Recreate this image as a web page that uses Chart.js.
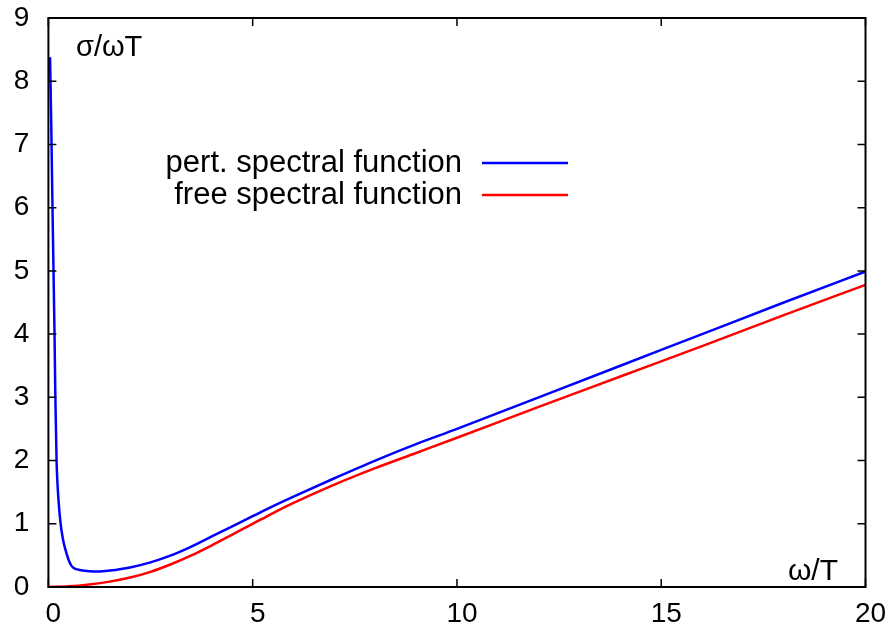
<!DOCTYPE html>
<html>
<head>
<meta charset="utf-8">
<script src="https://cdn.jsdelivr.net/npm/chart.js@4.4.1/dist/chart.umd.min.js"></script>
<style>
  html, body { margin: 0; padding: 0; background: #fff; }
  #wrap { width: 890px; height: 636px; }
</style>
</head>
<body>
<div id="wrap"><canvas id="grafica" width="890" height="636"></canvas></div>
<script>
// datos
const seriesLabels = ["pert. spectral function", "free spectral function"];
const seriesColors = ["#0000ff", "#ff0000"];

const pertOmega = [0.04, 0.07, 0.1, 0.13, 0.15, 0.17, 0.2, 0.25, 0.3, 0.35, 0.4, 0.5, 0.57, 0.65, 0.8, 1.0, 1.25, 1.5, 2, 2.5, 3, 3.5, 4, 4.5, 5, 5.5, 6, 7, 8, 9, 10, 12, 14, 16, 18, 20];
const pertSigma = [8.38, 7.3, 6.0, 4.8, 4.0, 3.0, 2.0, 1.35, 1.0, 0.78, 0.63, 0.42, 0.33, 0.29, 0.265, 0.25, 0.245, 0.26, 0.31, 0.39, 0.5, 0.64, 0.8, 0.96, 1.12, 1.28, 1.43, 1.72, 2.0, 2.26, 2.5, 3.0, 3.5, 4.0, 4.5, 4.99];

const freeOmega = [0, 0.5, 1, 1.5, 2, 2.5, 3, 3.5, 4, 4.5, 5, 5.5, 6, 7, 8, 9, 10, 12, 14, 16, 18, 20];
const freeSigma = [0, 0.01, 0.04, 0.085, 0.15, 0.24, 0.36, 0.5, 0.66, 0.83, 1.0, 1.17, 1.33, 1.62, 1.88, 2.12, 2.36, 2.85, 3.33, 3.81, 4.3, 4.78];

const xTicks = [0, 5, 10, 15, 20];
const yTicks = [0, 1, 2, 3, 4, 5, 6, 7, 8, 9];

const FONT = "'Liberation Sans', Arial, sans-serif";

function puntos(xs, ys) {
    return xs.map((x, i) => ({ x: x, y: ys[i] }));
}

// marco estilo gnuplot, ticks hacia dentro, etiquetas y leyenda
const marco = {
    id: "marco",
    afterDatasetsDraw(chart) {
        const { ctx, chartArea: a, scales } = chart;
        const xs = scales.x, ys = scales.y;
        ctx.save();
        ctx.strokeStyle = "#000";
        ctx.lineWidth = 2;
        ctx.strokeRect(a.left, a.top, a.right - a.left, a.bottom - a.top);

        const t = 8;
        ctx.lineWidth = 1.5;
        ctx.beginPath();
        xTicks.forEach(v => {
            const px = xs.getPixelForValue(v);
            ctx.moveTo(px, a.bottom); ctx.lineTo(px, a.bottom - t);
            ctx.moveTo(px, a.top); ctx.lineTo(px, a.top + t);
        });
        yTicks.forEach(v => {
            const py = ys.getPixelForValue(v);
            ctx.moveTo(a.left, py); ctx.lineTo(a.left + t, py);
            ctx.moveTo(a.right, py); ctx.lineTo(a.right - t, py);
        });
        ctx.stroke();

        ctx.fillStyle = "#000";
        ctx.textBaseline = "middle";
        ctx.font = "29px " + FONT;
        ctx.textAlign = "left";
        ctx.fillText("σ/ωT", 76, 48);
        ctx.font = "30px " + FONT;
        ctx.textAlign = "right";
        ctx.fillText("ω/T", 838, 572);

        // leyenda
        const filas = [163, 195];
        ctx.font = "31px " + FONT;
        chart.data.datasets.forEach((ds, i) => {
            ctx.fillStyle = "#000";
            ctx.textAlign = "right";
            ctx.fillText(ds.label, 462, filas[i]);
            ctx.strokeStyle = ds.borderColor;
            ctx.lineWidth = 2.5;
            ctx.beginPath();
            ctx.moveTo(482, filas[i]);
            ctx.lineTo(568, filas[i]);
            ctx.stroke();
        });
        ctx.restore();
    }
};

const ctx = document.getElementById("grafica").getContext("2d");

new Chart(ctx, {
    type: "line",
    data: {
        datasets: [
            {
                label: seriesLabels[0],
                data: puntos(pertOmega, pertSigma),
                borderColor: seriesColors[0],
                borderWidth: 2.5,
                pointRadius: 0,
                cubicInterpolationMode: "monotone",
                fill: false
            },
            {
                label: seriesLabels[1],
                data: puntos(freeOmega, freeSigma),
                borderColor: seriesColors[1],
                borderWidth: 2.5,
                pointRadius: 0,
                cubicInterpolationMode: "monotone",
                fill: false
            }
        ]
    },
    options: {
        responsive: false,
        animation: false,
        devicePixelRatio: 1,
        layout: { padding: { left: 0, right: 24.5, top: 18, bottom: 0 } },
        plugins: {
            legend: { display: false },
            tooltip: { enabled: false }
        },
        scales: {
            x: {
                type: "linear",
                min: 0,
                max: 20,
                afterBuildTicks: s => { s.ticks = xTicks.map(v => ({ value: v })); },
                afterFit: s => { s.height = 49; s.paddingLeft = 0; s.paddingRight = 0; },
                grid: { display: false, drawTicks: false },
                border: { display: false },
                ticks: {
                    color: "#000",
                    font: { family: FONT, size: 28 },
                    padding: 10,
                    labelOffset: 5,
                    maxRotation: 0
                }
            },
            y: {
                type: "linear",
                min: 0,
                max: 9,
                afterBuildTicks: s => { s.ticks = yTicks.map(v => ({ value: v })); },
                afterFit: s => { s.width = 48.4; s.paddingTop = 0; s.paddingBottom = 0; },
                grid: { display: false, drawTicks: false },
                border: { display: false },
                ticks: {
                    color: "#000",
                    font: { family: FONT, size: 28 },
                    padding: 19
                }
            }
        }
    },
    plugins: [marco]
});
</script>
</body>
</html>
